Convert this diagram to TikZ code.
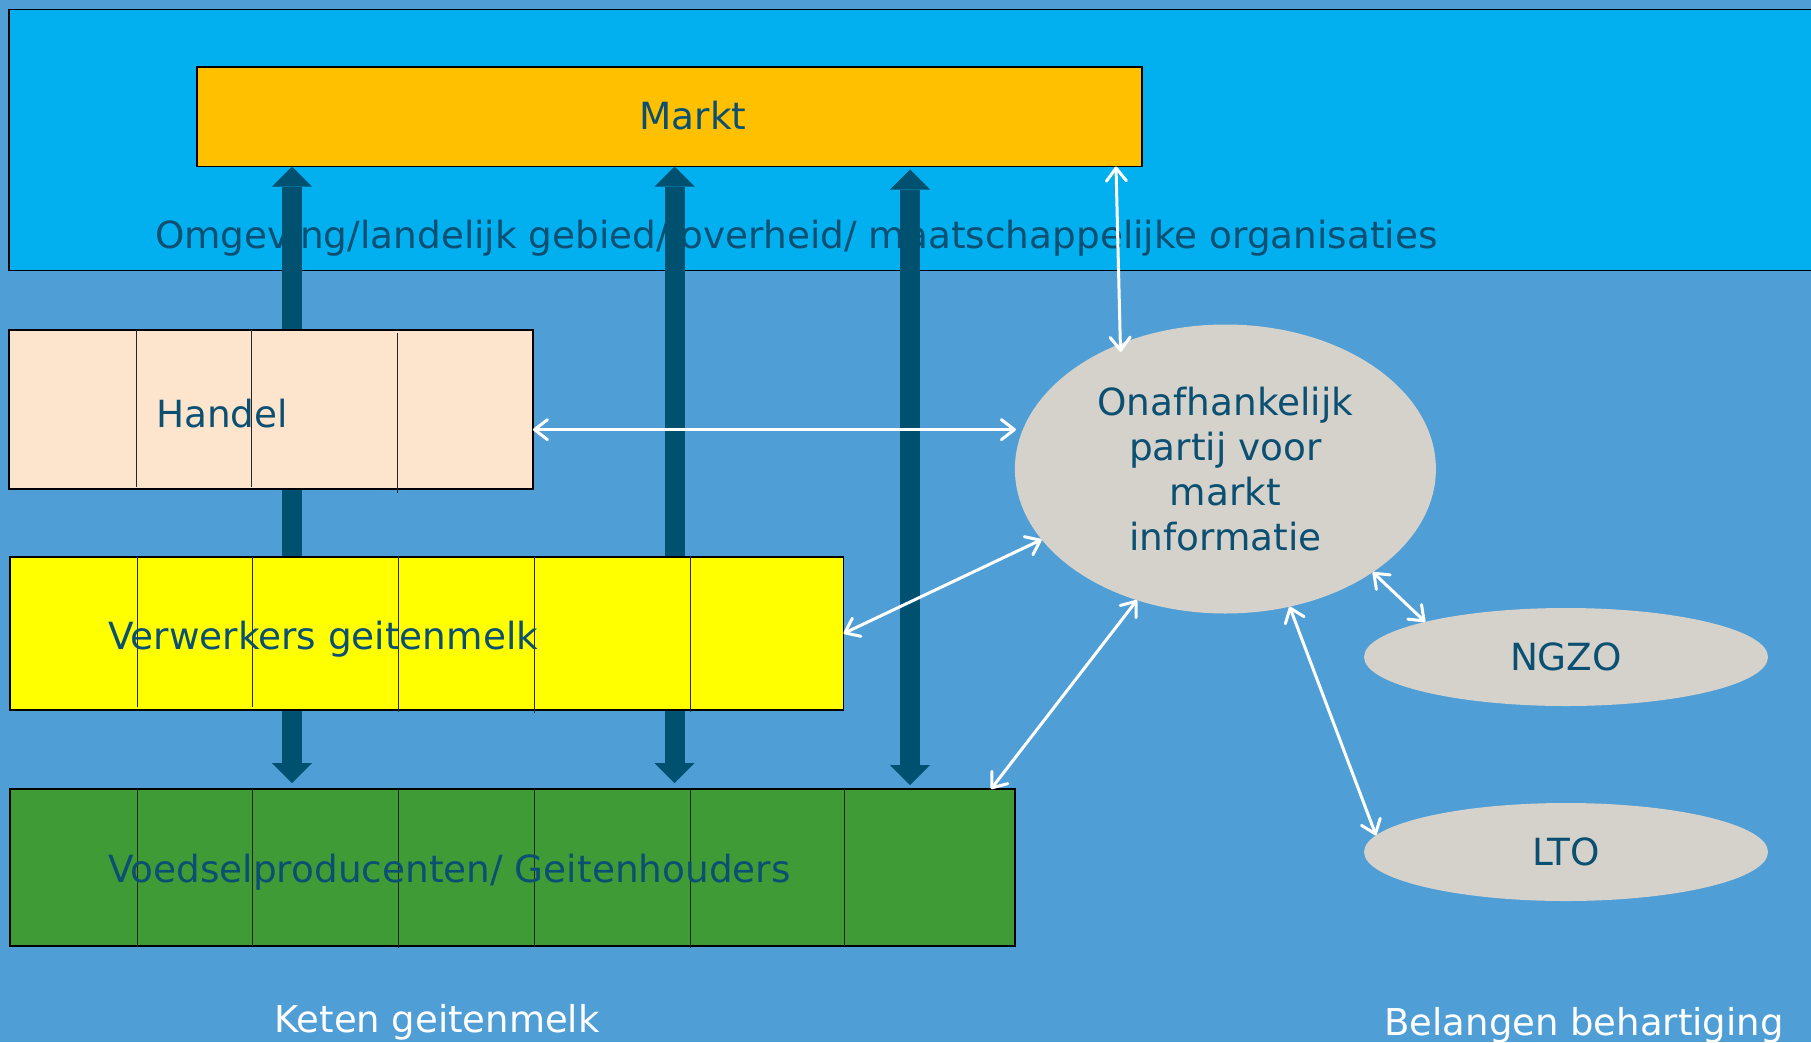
\documentclass[tikz,border=0pt]{standalone}
\usepackage{fontspec}
\setmainfont{DejaVu Sans}
\usetikzlibrary{arrows.meta,shapes.geometric,calc}

\definecolor{bgblue}{RGB}{80,158,214}
\definecolor{bandblue}{RGB}{2,176,240}
\definecolor{marktc}{RGB}{255,192,0}
\definecolor{handelc}{RGB}{253,228,204}
\definecolor{verwc}{RGB}{255,255,0}
\definecolor{groenc}{RGB}{63,155,53}
\definecolor{ovaal}{RGB}{212,210,202}
\definecolor{txtblue}{RGB}{11,80,115}
\definecolor{pijl}{RGB}{0,80,111}

\begin{document}
\begin{tikzpicture}[x=1pt,y=-1pt,
  every node/.style={inner sep=0pt,outer sep=0pt},
  lbl/.style={font=\fontsize{37.4}{45}\selectfont,text=txtblue},
  wlbl/.style={font=\fontsize{37}{45}\selectfont,text=white},
  blok/.style={draw=black,line width=1.2pt,anchor=north west},
  deler/.style={draw=black!85,line width=1pt},
  ovaalnode/.style={ellipse,fill=ovaal,lbl,align=center},
  dikpijl/.style={draw=pijl,line width=20pt,
    {Triangle[length=20pt,width=40pt,line width=0pt]}-{Triangle[length=20pt,width=40pt,line width=0pt]}},
  witpijl/.style={draw=white,line width=3pt,line cap=round,
    {Straight Barb[length=13pt,width=20pt,round]}-{Straight Barb[length=13pt,width=20pt,round]}}
]
\useasboundingbox (0,0) rectangle (1811,1042);
\clip (0,0) rectangle (1811,1042);
\fill[bgblue] (0,0) rectangle (1811,1042);

% surroundings band with the market on top
\node[blok,fill=bandblue,minimum width=1840pt,minimum height=261pt] (omg) at (9,9.3) {};
\node[blok,fill=marktc,minimum width=945pt,minimum height=99.5pt] (markt) at (197,67) {};
\node[lbl,anchor=base] (markttxt) at (693,129) {Markt};
\node[lbl,anchor=base west] (omgtxt) at (155,248) {Omgeving/landelijk gebied/ overheid/ maatschappelijke organisaties};

% columns of the thick flow arrows
\coordinate (k1) at (292,0);
\coordinate (k2) at (674.5,0);
\coordinate (k3) at (910,0);

% thick flow arrows between market and producers (blocks are drawn on top)
\node[blok,draw=none,minimum width=1005pt,minimum height=157pt] (groenref) at (10,789) {};
\draw[dikpijl] (markt.south -| k1) -- ($(groenref.north -| k1)+(0,-6)$);
\draw[dikpijl] (markt.south -| k2) -- ($(groenref.north -| k2)+(0,-6)$);
\draw[dikpijl] ($(markt.south -| k3)+(0,3)$) -- ($(groenref.north -| k3)+(0,-4)$);

% Handel
\node[blok,fill=handelc,minimum width=524pt,minimum height=159pt] (handel) at (9,330) {};
\draw[deler] (136,330) -- (136,487);
\draw[deler] (251,330) -- (251,487);
\draw[deler] (397,333) -- (397,493);
\node[lbl,anchor=base west] (handeltxt) at (156,427) {Handel};

% Verwerkers geitenmelk
\node[blok,fill=verwc,minimum width=833.5pt,minimum height=153pt] (verw) at (10,557) {};
\draw[deler] (137,557) -- (137,707);
\draw[deler] (252,557) -- (252,707);
\draw[deler] (398.5,556) -- (398.5,712);
\draw[deler] (534,557) -- (534,713);
\draw[deler] (690,556) -- (690,712);
\node[lbl,anchor=base west] (verwtxt) at (108,649) {Verwerkers geitenmelk};

% Voedselproducenten / Geitenhouders
\node[blok,fill=groenc,minimum width=1005pt,minimum height=157pt] (groen) at (10,789) {};
\draw[deler] (137,789) -- (137,946);
\draw[deler] (252,789) -- (252,946);
\draw[deler] (398.5,790) -- (398.5,948);
\draw[deler] (534,789) -- (534,946);
\draw[deler] (690,790) -- (690,948);
\draw[deler] (844,789) -- (844,946);
\node[lbl,anchor=base west] (groentxt) at (108,882) {Voedselproducenten/ Geitenhouders};

% independent market information party and interest groups
\node[ovaalnode,minimum width=421pt,minimum height=289pt] (info) at (1225.4,469)
  {Onafhankelijk\\partij voor\\markt\\informatie};
\node[ovaalnode,minimum width=404pt,minimum height=98pt] (ngzo) at (1566,657) {NGZO};
\node[ovaalnode,minimum width=404pt,minimum height=98pt] (lto) at (1566,852) {LTO};

% information exchange
\draw[witpijl,shorten >=-8pt] ($(markt.south east)+(-26,0)$) -- (info.130);
\draw[witpijl,shorten >=7pt] (handel.east |- info.169) -- (info.169);
\draw[witpijl] (verw.east) -- (info.201);
\draw[witpijl] ($(groen.north east)+(-24,0)$) -- (info.236);
\draw[witpijl] (info.325) -- (ngzo.166);
\draw[witpijl] (info.295) -- (lto.175);

% captions
\node[wlbl,anchor=base] (keten) at (437,1032) {Keten geitenmelk};
\node[wlbl,anchor=base] (belang) at (1584,1035) {Belangen behartiging};
\end{tikzpicture}
\end{document}
